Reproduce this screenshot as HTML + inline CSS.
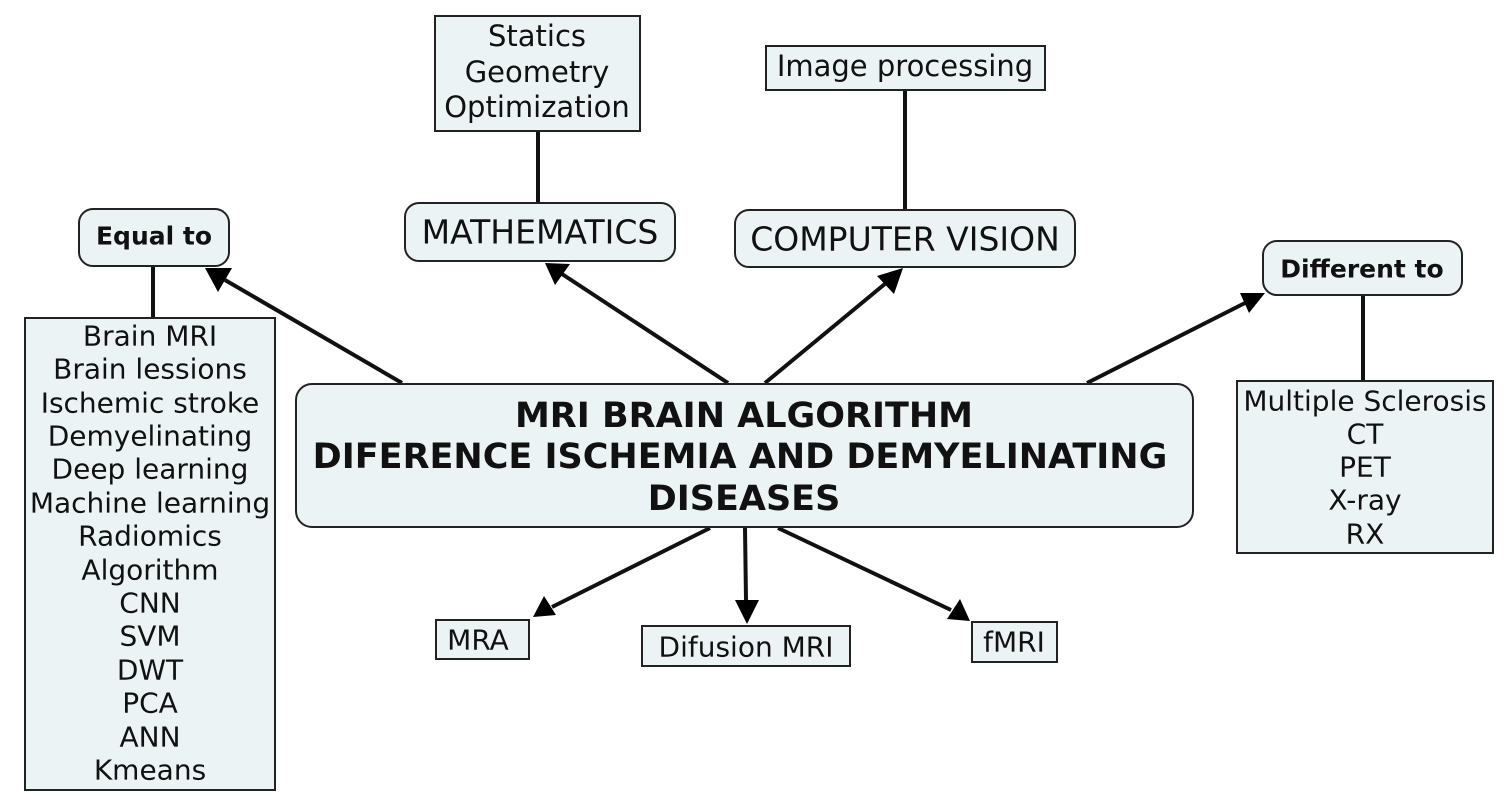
<!DOCTYPE html>
<html><head><meta charset="utf-8"><style>
html,body{margin:0;padding:0;background:#fff;}
svg{display:block;}
text{font-family:"DejaVu Sans","Liberation Sans",sans-serif;fill:#111;}
</style></head><body>
<svg width="1510" height="805" viewBox="0 0 1510 805" xmlns="http://www.w3.org/2000/svg">
<g stroke="#111" stroke-width="4" fill="none">
<line x1="538" y1="131" x2="538" y2="204"/>
<line x1="905" y1="90" x2="905" y2="211"/>
<line x1="153" y1="266" x2="153" y2="318"/>
<line x1="1363" y1="295" x2="1363" y2="381"/>
<line x1="402" y1="383" x2="225" y2="280"/>
<line x1="728" y1="383" x2="562" y2="274"/>
<line x1="765" y1="383" x2="886" y2="283"/>
<line x1="1087" y1="383" x2="1245" y2="303"/>
<line x1="710" y1="528" x2="552" y2="607"/>
<line x1="745" y1="528" x2="746" y2="600"/>
<line x1="778" y1="528" x2="951" y2="610"/>
</g>
<g fill="#000">
<polygon points="205,268 232,268 218,292"/>
<polygon points="545,263 570,264 555,285"/>
<polygon points="903,268 894,294 877,276"/>
<polygon points="1265,293 1249,313 1240,293"/>
<polygon points="533,617 544,596 556,615"/>
<polygon points="747,624 735,600 759,600"/>
<polygon points="970,621 947,619 960,599"/>
</g>
<g fill="#ecf3f5" stroke="#222" stroke-width="2">
<rect x="435" y="16" width="205" height="115"/>
<rect x="766" y="46" width="279" height="44"/>
<rect x="405" y="203" width="270" height="58" rx="14"/>
<rect x="735" y="210" width="340" height="57" rx="14"/>
<rect x="79" y="209" width="150" height="57" rx="14"/>
<rect x="1263" y="241" width="199" height="54" rx="14"/>
<rect x="296" y="384" width="897" height="143" rx="16"/>
<rect x="25" y="318" width="250" height="472"/>
<rect x="1237" y="381" width="256" height="172"/>
<rect x="436" y="620" width="93" height="39"/>
<rect x="642" y="626" width="208" height="40"/>
<rect x="972" y="622" width="85" height="40"/>
</g>
<g text-anchor="middle" dominant-baseline="central">
<g font-size="29">
<text x="537" y="36">Statics</text>
<text x="537" y="72">Geometry</text>
<text x="537" y="107">Optimization</text>
<text x="905" y="66">Image processing</text>
</g>
<text x="540" y="232" font-size="33">MATHEMATICS</text>
<text x="905" y="239" font-size="33">COMPUTER VISION</text>
<text x="154" y="236" font-size="25" font-weight="bold">Equal to</text>
<text x="1362" y="269" font-size="25" font-weight="bold">Different to</text>
<g font-size="35" font-weight="bold">
<text x="744" y="416">MRI BRAIN ALGORITHM</text>
<text x="740" y="457">DIFERENCE ISCHEMIA AND DEMYELINATING</text>
<text x="744" y="499">DISEASES</text>
</g>
<g font-size="28">
<text x="150" y="336">Brain MRI</text>
<text x="150" y="369">Brain lessions</text>
<text x="150" y="403">Ischemic stroke</text>
<text x="150" y="436">Demyelinating</text>
<text x="150" y="469">Deep learning</text>
<text x="150" y="503">Machine learning</text>
<text x="150" y="536">Radiomics</text>
<text x="150" y="570">Algorithm</text>
<text x="150" y="603">CNN</text>
<text x="150" y="636">SVM</text>
<text x="150" y="670">DWT</text>
<text x="150" y="703">PCA</text>
<text x="150" y="737">ANN</text>
<text x="150" y="770">Kmeans</text>
<text x="1365" y="401">Multiple Sclerosis</text>
<text x="1365" y="434">CT</text>
<text x="1365" y="467">PET</text>
<text x="1365" y="500">X-ray</text>
<text x="1365" y="534">RX</text>
<text x="478" y="640">MRA</text>
<text x="746" y="647">Difusion MRI</text>
<text x="1014" y="642">fMRI</text>
</g>
</g>
</svg>
</body></html>
